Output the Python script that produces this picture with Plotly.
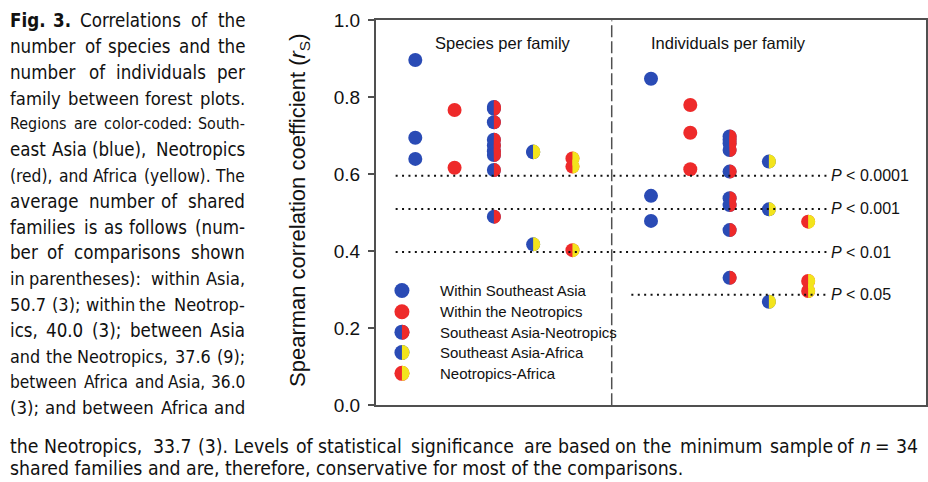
import math
import plotly.graph_objects as go

# ---------------- data ----------------
categories = ["Within Southeast Asia", "Within the Neotropics",
              "Southeast Asia-Neotropics", "Southeast Asia-Africa",
              "Neotropics-Africa"]
panels = ["Species per family", "Individuals per family"]

species_asia = [0.897, 0.695, 0.640]
species_neo = [0.767, 0.617]
species_asia_neo = [0.775, 0.770, 0.735, 0.690, 0.675, 0.660, 0.650, 0.611, 0.490]
species_asia_afr = [0.659, 0.657, 0.418]
species_neo_afr = [0.641, 0.620, 0.403]

indiv_asia = [0.848, 0.544, 0.479]
indiv_neo = [0.780, 0.708, 0.613]
indiv_asia_neo = [0.698, 0.690, 0.680, 0.663, 0.607, 0.538, 0.520, 0.455, 0.331]
indiv_asia_afr = [0.633, 0.509, 0.269]
indiv_neo_afr = [0.477, 0.323, 0.297]

p_values = ["0.0001", "0.001", "0.01", "0.05"]
p_thresholds = [0.596, 0.510, 0.398, 0.287]

y_ticks = [0.0, 0.2, 0.4, 0.6, 0.8, 1.0]

caption_lines = [
    "Fig. 3. Correlations of the",
    "number of species and the",
    "number of individuals per",
    "family between forest plots.",
    "Regions are color-coded: South-",
    "east Asia (blue), Neotropics",
    "(red), and Africa (yellow). The",
    "average number of shared",
    "families is as follows (num-",
    "ber of comparisons shown",
    "in parentheses): within Asia,",
    "50.7 (3); within the Neotrop-",
    "ics, 40.0 (3); between Asia",
    "and the Neotropics, 37.6 (9);",
    "between Africa and Asia, 36.0",
    "(3); and between Africa and",
]
caption_wide = [
    "the Neotropics, 33.7 (3). Levels of statistical significance are based on the minimum sample of n = 34",
    "shared families and are, therefore, conservative for most of the comparisons.",
]

# ---------------- styles ----------------
BLUE = "#2a4bb5"
RED = "#ee2a2a"
YELLOW = "#f3e41c"
AXIS = "#505050"
TXT = "#111111"
pair_colors = [(BLUE, BLUE), (RED, RED), (BLUE, RED), (BLUE, YELLOW), (RED, YELLOW)]
R = 7.0
K = 0.5523 * R
right_half = f"M 0,{-R} C {K},{-R} {R},{-K} {R},0 C {R},{K} {K},{R} 0,{R} Z"
R2 = 7.5
K2 = 0.5523 * R2
right_half_leg = f"M 0,{-R2} C {K2},{-R2} {R2},{-K2} {R2},0 C {R2},{K2} {K2},{R2} 0,{R2} Z"

W, H = 928, 482
def px(x):
    return x / W
def py(y):
    return (H - y) / H

# approximate DejaVu Sans advance widths (units of 2048)
CW = {" ": 651, "(": 799, ")": 799, ",": 651, "-": 739, ".": 651, ":": 690, ";": 690,
      "=": 1716,
      "A": 1401, "F": 1178, "L": 1141, "N": 1532, "R": 1423, "S": 1300, "T": 1251,
      "a": 1255, "b": 1300, "c": 1126, "d": 1300, "e": 1260, "f": 721, "g": 1300,
      "h": 1298, "i": 569, "j": 569, "k": 1186, "l": 569, "m": 1995, "n": 1298,
      "o": 1253, "p": 1300, "q": 1300, "r": 842, "s": 1067, "t": 803, "u": 1298,
      "v": 1212, "w": 1675, "x": 1212, "y": 1212, "z": 1075}
for d in "0123456789":
    CW[d] = 1303

COND = 0.95

def unit_width(s, bold=False):
    w = sum(CW.get(c, 1250) for c in s) / 2048.0 * COND
    return w * 1.1 if bold else w

CAP_FONT = "DejaVu Sans Condensed, Liberation Sans Narrow, Liberation Sans"

def fmt_word(w, bold_words, italic_words):
    t = w
    if w in bold_words:
        t = f"<b>{t}</b>"
    if w in italic_words:
        t = f"<i>{t}</i>"
    return t

def justified(line, x0, x1, yc, size, bold_words=(), italic_words=()):
    words = line.split(" ")
    n = len(words)
    units = [unit_width(w, w in bold_words) for w in words]
    sp = 651 / 2048.0 * 0.9
    need = sum(units) + (n - 1) * sp * 0.75
    size = min(size, (x1 - x0) / need)
    widths = [u * size for u in units]
    fmt = [fmt_word(w, bold_words, italic_words) for w in words]
    gap = (x1 - x0 - sum(widths)) / (n - 1)
    half = math.ceil(n / 2)
    out = []
    xs = x0
    for i in range(half):
        out.append(dict(x=px(xs), y=py(yc), xref="paper", yref="paper", text=fmt[i],
                        showarrow=False, xanchor="left", yanchor="middle",
                        font=dict(family=CAP_FONT, size=size, color=TXT)))
        xs += widths[i] + gap
    xr = x1
    for i in range(n - 1, half - 1, -1):
        out.append(dict(x=px(xr), y=py(yc), xref="paper", yref="paper", text=fmt[i],
                        showarrow=False, xanchor="right", yanchor="middle",
                        font=dict(family=CAP_FONT, size=size, color=TXT)))
        xr -= widths[i] + gap
    return out

fig = go.Figure()
shapes = []
annotations = []

groups = [
    [species_asia, species_neo, species_asia_neo, species_asia_afr, species_neo_afr],
    [indiv_asia, indiv_neo, indiv_asia_neo, indiv_asia_afr, indiv_neo_afr],
]
for p, grp in enumerate(groups):
    for i, vals in enumerate(grp):
        xpos = p * 6 + i + 1
        left, right = pair_colors[i]
        fig.add_trace(go.Scatter(
            x=[xpos] * len(vals), y=vals, mode="markers",
            marker=dict(size=2 * R, color=left, line=dict(width=0)),
            showlegend=False, hoverinfo="y", name=categories[i]))
        if right != left:
            for v in vals:
                shapes.append(dict(type="path", xref="x", yref="y",
                                   xsizemode="pixel", ysizemode="pixel",
                                   xanchor=xpos, yanchor=v, path=right_half,
                                   fillcolor=right, line=dict(width=0),
                                   layer="above"))

# manual legend
leg_x = 0.66
leg_y = [0.298, 0.243, 0.190, 0.137, 0.083]
for i, name in enumerate(categories):
    left, right = pair_colors[i]
    fig.add_trace(go.Scatter(
        x=[leg_x], y=[leg_y[i]], mode="markers",
        marker=dict(size=2 * R2, color=left, line=dict(width=0)),
        showlegend=False, hoverinfo="skip"))
    if right != left:
        shapes.append(dict(type="path", xref="x", yref="y",
                           xsizemode="pixel", ysizemode="pixel",
                           xanchor=leg_x, yanchor=leg_y[i], path=right_half_leg,
                           fillcolor=right, line=dict(width=0), layer="above"))
    annotations.append(dict(x=1.58, y=leg_y[i], xref="x", yref="y",
                            text=name, showarrow=False, xanchor="left",
                            yanchor="middle",
                            font=dict(family="Liberation Sans, Arial", size=15, color=TXT)))

# divider
shapes.append(dict(type="line", xref="x", yref="y", x0=6, x1=6, y0=0, y1=1,
                   line=dict(color=AXIS, width=1.5, dash="12px,4px"), layer="above"))

# threshold lines
starts = [0.5, 0.5, 0.5, 6.5]
for v, pv, s in zip(p_thresholds, p_values, starts):
    shapes.append(dict(type="line", xref="x", yref="y", x0=s, x1=11.5, y0=v, y1=v,
                       line=dict(color=TXT, width=2, dash="2px,4.4px"), layer="above"))
    annotations.append(dict(x=11.52, y=v, xref="x", yref="y",
                            text=f"<i>P</i> < {pv}", showarrow=False,
                            xanchor="left", yanchor="middle",
                            font=dict(family="Liberation Sans, Arial", size=16, color=TXT)))

# panel titles
for cx, name in zip([3.23, 8.96], panels):
    annotations.append(dict(x=cx, y=0.941, xref="x", yref="y", text=name,
                            showarrow=False, xanchor="center", yanchor="middle",
                            font=dict(family="Liberation Sans, Arial", size=16.5, color=TXT)))

# y axis title
annotations.append(dict(x=px(299), y=py(211), xref="paper", yref="paper",
                        text="Spearman correlation coefficient (<i>r</i><sub>S</sub>)",
                        textangle=-90, showarrow=False, xanchor="center", yanchor="middle",
                        font=dict(family="Liberation Sans, Arial", size=22, color=TXT)))

# caption (justified column)
for i, line in enumerate(caption_lines):
    bold = ("Fig.", "3.") if i == 0 else ()
    annotations += justified(line, 8, 247, 20.7 + 25.8 * i, 18.6, bold_words=bold)
annotations += justified(caption_wide[0], 8, 920, 446, 19.3, italic_words=("n",))
annotations.append(dict(x=px(8), y=py(468.5), xref="paper", yref="paper",
                        text=caption_wide[1], showarrow=False, xanchor="left",
                        yanchor="middle",
                        font=dict(family=CAP_FONT, size=19.3, color=TXT)))

fig.update_layout(
    width=W, height=H, autosize=False,
    margin=dict(l=0, r=0, t=0, b=0, autoexpand=False),
    paper_bgcolor="white", plot_bgcolor="white",
    showlegend=False,
    shapes=shapes, annotations=annotations,
    xaxis=dict(domain=[px(376), px(926)], range=[0, 14], showgrid=False,
               zeroline=False, showticklabels=False, ticks="",
               showline=True, linecolor=AXIS, linewidth=2, mirror=True),
    yaxis=dict(domain=[py(405.3), py(20.3)], range=[0, 1.0], showgrid=False,
               zeroline=False, tickvals=y_ticks, tickformat=".1f",
               ticks="outside", ticklen=6, tickwidth=2, tickcolor=AXIS,
               ticklabelstandoff=4,
               tickfont=dict(family="Liberation Sans, Arial", size=19, color=TXT),
               showline=True, linecolor=AXIS, linewidth=2, mirror=True),
)

fig.write_html("out.html", config={"displayModeBar": False},
               post_script="document.body.style.margin='0';document.body.style.overflow='hidden';")
